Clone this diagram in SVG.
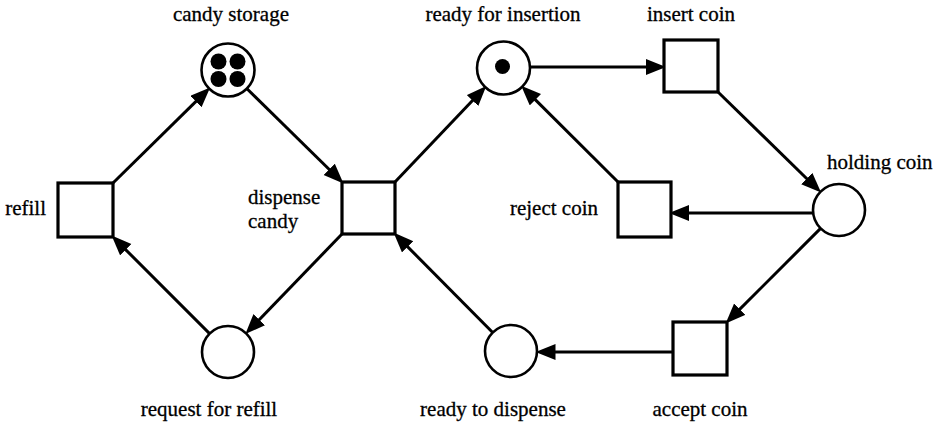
<svg xmlns="http://www.w3.org/2000/svg" width="939" height="423" viewBox="0 0 939 423" font-family="'Liberation Serif', 'Times New Roman', serif">
<defs>
<marker id="ah" markerUnits="userSpaceOnUse" markerWidth="22" markerHeight="18" viewBox="0 0 22 18" refX="8" refY="8" orient="auto">
<path d="M0,0 L20,8 L0,16 z" fill="#000"/>
</marker>
</defs>
<style>
.p{fill:#fff;stroke:#000;stroke-width:2.6}
.t{fill:#fff;stroke:#000;stroke-width:3.2}
.tok{fill:#000}
.a{stroke:#000;stroke-width:3;fill:none;marker-end:url(#ah)}
.lb{font-size:21px;fill:#000;stroke:#000;stroke-width:0.3}
</style>
<rect width="939" height="423" fill="#fff"/>
<g id="connectors">
<line class="a" x1="113" y1="183" x2="201.6" y2="95.9"/>
<line class="a" x1="246.5" y1="88.2" x2="334.9" y2="175"/>
<line class="a" x1="395" y1="182" x2="478" y2="94.8"/>
<line class="a" x1="530" y1="67" x2="654" y2="67"/>
<line class="a" x1="718" y1="92" x2="812.5" y2="184.2"/>
<line class="a" x1="813" y1="213" x2="681" y2="213"/>
<line class="a" x1="618" y1="182" x2="529.7" y2="94.1"/>
<line class="a" x1="820.6" y1="228.4" x2="734.1" y2="314.9"/>
<line class="a" x1="673" y1="352" x2="547.5" y2="352"/>
<line class="a" x1="492.7" y1="332.5" x2="402" y2="241.1"/>
<line class="a" x1="342" y1="234" x2="253.7" y2="325.4"/>
<line class="a" x1="209.6" y1="333.6" x2="120.1" y2="244.1"/>
</g>
<g id="candy-storage">
<circle class="p" cx="228" cy="70" r="26.5"/>
<circle class="tok" cx="218.5" cy="61.5" r="8"/>
<circle class="tok" cx="237.5" cy="61.5" r="8"/>
<circle class="tok" cx="218.5" cy="79" r="8"/>
<circle class="tok" cx="237.5" cy="79" r="8"/>
<text class="lb" font-family="Liberation Serif, serif" x="231" y="21" text-anchor="middle">candy storage</text>
</g>
<g id="ready-for-insertion">
<circle class="p" cx="503.5" cy="68" r="26.5"/>
<circle class="tok" cx="502.5" cy="66.5" r="7.5"/>
<text class="lb" font-family="Liberation Serif, serif" x="503" y="21" text-anchor="middle">ready for insertion</text>
</g>
<g id="insert-coin">
<rect class="t" x="664" y="40" width="54" height="52"/>
<text class="lb" font-family="Liberation Serif, serif" x="691" y="21" text-anchor="middle">insert coin</text>
</g>
<g id="holding-coin">
<circle class="p" cx="839" cy="210" r="26"/>
<text class="lb" font-family="Liberation Serif, serif" x="827" y="169">holding coin</text>
</g>
<g id="refill">
<rect class="t" x="58" y="183" width="55" height="54"/>
<text class="lb" font-family="Liberation Serif, serif" x="46" y="215" text-anchor="end">refill</text>
</g>
<g id="dispense-candy">
<rect class="t" x="342" y="182" width="53" height="52"/>
<text class="lb" font-family="Liberation Serif, serif" x="248" y="204">dispense</text>
<text class="lb" font-family="Liberation Serif, serif" x="248" y="228">candy</text>
</g>
<g id="reject-coin">
<rect class="t" x="618" y="182" width="53" height="55"/>
<text class="lb" font-family="Liberation Serif, serif" x="598" y="215" text-anchor="end">reject coin</text>
</g>
<g id="accept-coin">
<rect class="t" x="673" y="322" width="54" height="53"/>
<text class="lb" font-family="Liberation Serif, serif" x="700" y="416" text-anchor="middle">accept coin</text>
</g>
<g id="ready-to-dispense">
<circle class="p" cx="511" cy="351" r="26"/>
<text class="lb" font-family="Liberation Serif, serif" x="493" y="416" text-anchor="middle">ready to dispense</text>
</g>
<g id="request-for-refill">
<circle class="p" cx="228" cy="352" r="26"/>
<text class="lb" font-family="Liberation Serif, serif" x="209" y="416" text-anchor="middle">request for refill</text>
</g>
</svg>
